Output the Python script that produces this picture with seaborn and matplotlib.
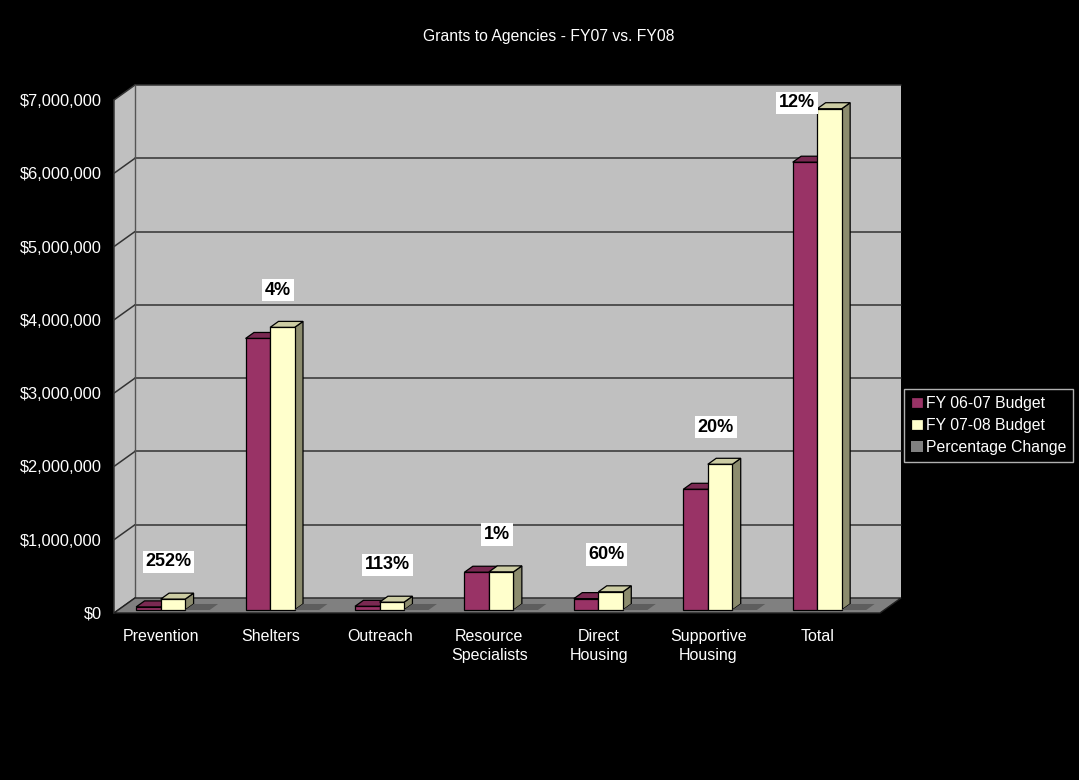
import numpy as np
import pandas as pd
import matplotlib
matplotlib.use("Agg")
import matplotlib.pyplot as plt
import seaborn as sns
from matplotlib.patches import Polygon, Rectangle, Patch
from matplotlib.ticker import FuncFormatter

# ---------------- data ----------------
categories = ["Prevention", "Shelters", "Outreach", "Resource\nSpecialists",
              "Direct\nHousing", "Supportive\nHousing", "Total"]
fy0607 = [42000, 3705000, 50000, 515000, 155000, 1647000, 6110000]
fy0708 = [148000, 3856000, 106000, 520000, 248000, 1988000, 6840000]
pct_change = [2.52, 0.04, 1.13, 0.01, 0.60, 0.20, 0.12]
series_names = ["FY 06-07 Budget", "FY 07-08 Budget", "Percentage Change"]
y_ticks = [0, 1000000, 2000000, 3000000, 4000000, 5000000, 6000000, 7000000]
title = "Grants to Agencies - FY07 vs. FY08"

# ---------------- style ----------------
sns.set_theme(style="white")
plt.rcParams["font.family"] = ["Liberation Sans", "DejaVu Sans"]

face_cols = ["#993366", "#FFFFCC", "#808080"]
top_cols = ["#7A2952", "#CCCCA3", "#5E5E5E"]
side_cols = ["#6B2447", "#8C8C6E", "#5E5E5E"]
WALL = "#C0C0C0"
FLOOR = "#808080"
GRID = "#333333"

W, H = 1079, 780
fig = plt.figure(figsize=(W / 100, H / 100), dpi=100, facecolor="black")
ax = fig.add_axes([114 / W, (H - 613) / H, 766 / W, 513 / H])
ax.set_facecolor("none")

XMIN, XMAX = -0.5, 6.5
YMAX = 7000000
# oblique depth of the whole floor (data units)
DX, DY = 0.192, 0.205e6
F0, FD = 0.2, 0.4   # bar front depth fraction, bar thickness fraction

# long-format data
rows = []
for i, c in enumerate(categories):
    rows.append({"pos": i, "series": series_names[0], "value": fy0607[i]})
    rows.append({"pos": i, "series": series_names[1], "value": fy0708[i]})
    rows.append({"pos": i, "series": series_names[2], "value": pct_change[i]})
df = pd.DataFrame(rows)

sns.barplot(data=df, x="pos", y="value", hue="series", hue_order=series_names,
            native_scale=True, width=0.672, dodge=True, errorbar=None,
            palette=face_cols, saturation=1, edgecolor="black", linewidth=0.9,
            legend=False, ax=ax)
bar_patches = sorted([p for p in ax.patches if isinstance(p, Rectangle)],
                     key=lambda p: p.get_x())

ax.set_xlim(XMIN, XMAX)
ax.set_ylim(0, YMAX)

# ---------- walls and floor ----------
ax.add_patch(Rectangle((XMIN + DX, DY), XMAX - XMIN, YMAX, facecolor=WALL,
                       edgecolor="none", zorder=0.5, clip_on=False))
ax.add_patch(Polygon([(XMIN, 0), (XMIN + DX, DY), (XMIN + DX, YMAX + DY), (XMIN, YMAX)],
                     closed=True, facecolor=WALL, edgecolor="none", zorder=0.5, clip_on=False))
for v in y_ticks:
    ax.plot([XMIN, XMIN + DX], [v, v + DY], color=GRID, lw=1.1, zorder=0.8, clip_on=False)
    if v > 0:
        ax.plot([XMIN + DX, XMAX + DX], [v + DY, v + DY], color=GRID, lw=1.1,
                zorder=0.8, clip_on=False)
ax.plot([XMIN + DX, XMIN + DX], [DY, YMAX + DY], color="#555555", lw=1.0, zorder=0.8, clip_on=False)
ax.plot([XMIN, XMIN], [0, YMAX], color=GRID, lw=1.1, zorder=0.8, clip_on=False)
ax.add_patch(Polygon([(XMIN, 0), (XMAX, 0), (XMAX + DX, DY), (XMIN + DX, DY)], closed=True,
                     facecolor=FLOOR, edgecolor="#222222", lw=1.0, zorder=1, clip_on=False))

# ---------- 3D bars ----------
sx, sy = DX * F0, DY * F0
bx, by = DX * FD, DY * FD
yellow_left = {}
for k, p in enumerate(bar_patches):
    x0, w, h = p.get_x(), p.get_width(), p.get_height()
    fc = matplotlib.colors.to_hex(p.get_facecolor())
    s = [c.lower() for c in face_cols].index(fc.lower())
    x0n, y0n = x0 + sx, sy
    p.set_x(x0n)
    p.set_y(y0n)
    z = 3 + 3 * k
    p.set_zorder(z + 2)
    p.set_clip_on(False)
    ec = "black" if s < 2 else "none"
    if s == 2:
        p.set_edgecolor("none")
    top = [(x0n, y0n + h), (x0n + w, y0n + h), (x0n + w + bx, y0n + h + by), (x0n + bx, y0n + h + by)]
    side = [(x0n + w, y0n), (x0n + w + bx, y0n + by), (x0n + w + bx, y0n + h + by), (x0n + w, y0n + h)]
    ax.add_patch(Polygon(side, closed=True, facecolor=side_cols[s], edgecolor=ec,
                         lw=0.9, zorder=z + 1, clip_on=False))
    ax.add_patch(Polygon(top, closed=True, facecolor=top_cols[s], edgecolor=ec,
                         lw=0.9, zorder=z + 1, clip_on=False))
    if s == 1:
        yellow_left[int(round(x0 + w / 2))] = x0n

# ---------- percentage labels ----------
for i in range(len(categories)):
    top_v = max(fy0607[i], fy0708[i])
    ly = top_v + 0.55e6
    lx, ha = i, "center"
    if ly > 6.96e6:
        ly = 6.96e6
        lx, ha = yellow_left.get(i, i) - 0.02, "right"
    ax.text(lx, ly, f"{pct_change[i]:.0%}", ha=ha, va="center", fontsize=13,
            fontweight="bold", color="black", zorder=200,
            bbox=dict(boxstyle="square,pad=0.15", facecolor="white", edgecolor="none"))

# ---------- axes ticks ----------
for sp in ax.spines.values():
    sp.set_visible(False)
ax.set_yticks(y_ticks)
ax.yaxis.set_major_formatter(FuncFormatter(lambda v, _: f"${v:,.0f}"))
ax.set_xticks([i - 0.07 for i in range(len(categories))])
ax.set_xticklabels(categories, linespacing=1.35)
ax.tick_params(axis="y", length=0, pad=8.6, labelcolor="white", labelsize=11.8)
ax.tick_params(axis="x", length=0, pad=11.5, labelcolor="white", labelsize=11.5)
ax.set_xlabel("")
ax.set_ylabel("")
ax.grid(False)

fig.text(549 / W, 1 - 36 / H, title, ha="center", va="center", color="white", fontsize=11.3)

handles = [Patch(facecolor=face_cols[0], edgecolor="black", lw=0.9),
           Patch(facecolor=face_cols[1], edgecolor="black", lw=0.9),
           Patch(facecolor=face_cols[2], edgecolor="none")]
leg = fig.legend(handles, series_names, loc="center left",
                 bbox_to_anchor=(904 / W, 1 - 425.5 / H), borderaxespad=0,
                 fontsize=11.3, labelcolor="white", frameon=True, fancybox=False,
                 handlelength=0.75, handleheight=0.75, handletextpad=0.2,
                 labelspacing=0.45, borderpad=0.45)
leg.get_frame().set_facecolor("black")
leg.get_frame().set_edgecolor("#DDDDDD")
leg.get_frame().set_linewidth(1.0)

fig.savefig("out.png", dpi=100, facecolor="black")
